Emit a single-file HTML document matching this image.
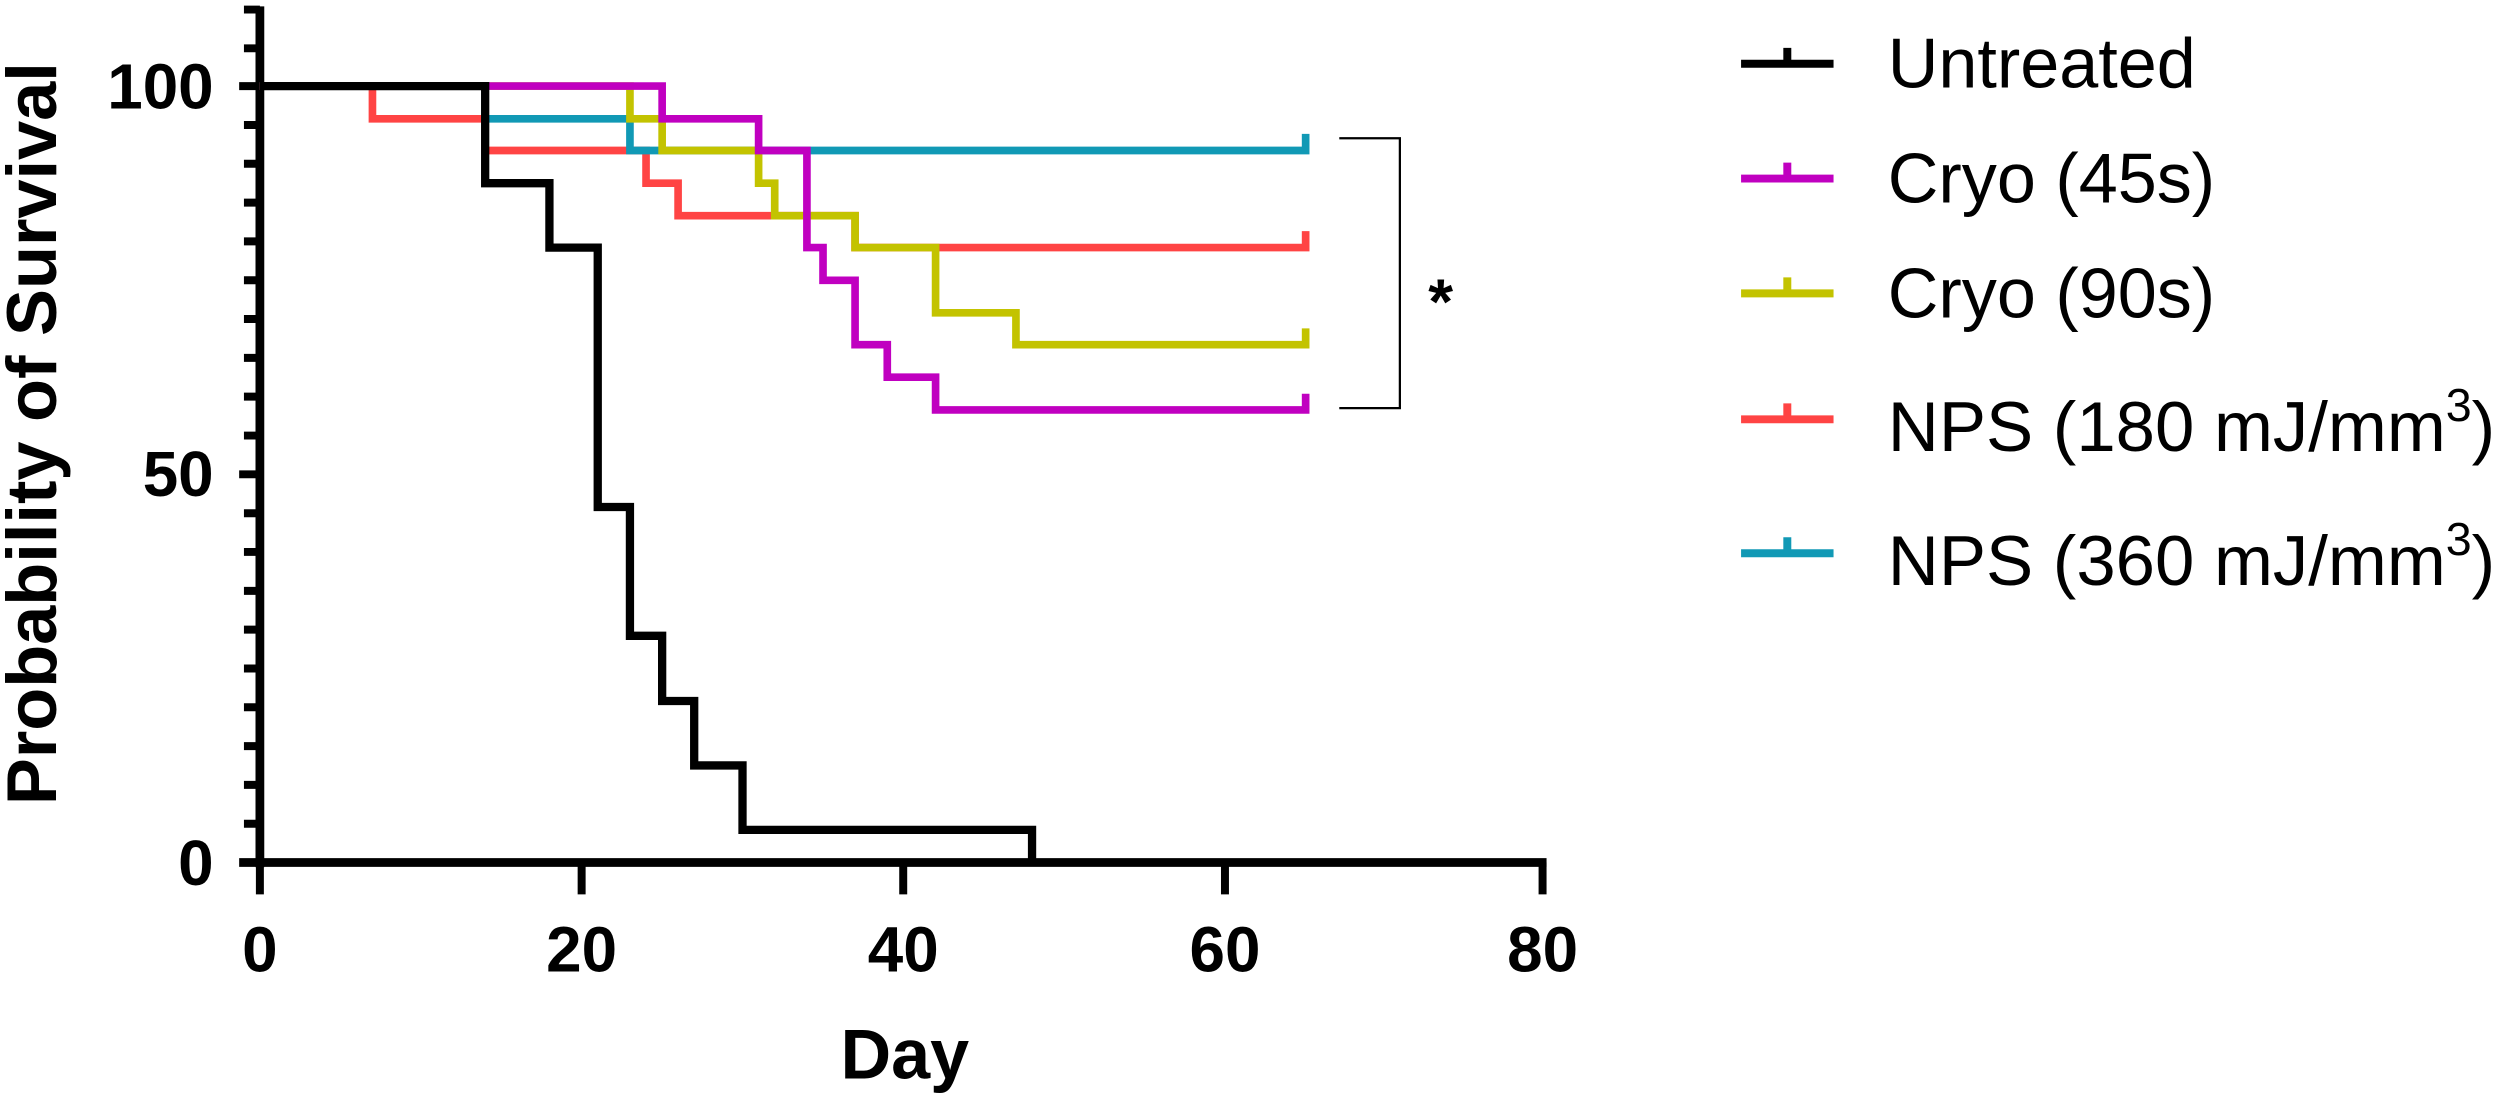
<!DOCTYPE html>
<html><head><meta charset="utf-8"><style>
html,body{margin:0;padding:0;background:#fff;}
svg{display:block;}
</style></head><body>
<svg width="2500" height="1098" viewBox="0 0 1568 688.7" preserveAspectRatio="none" xmlns="http://www.w3.org/2000/svg" font-family="Liberation Sans, Arial, sans-serif">
<rect width="1568" height="689" fill="#fff"/>
<!-- axes -->
<g stroke="#000" fill="none">
<line x1="163" y1="4" x2="163" y2="544" stroke-width="5.5"/>
<line x1="150" y1="541" x2="970" y2="541" stroke-width="5.5"/>
<g stroke-width="5">
<line x1="150" y1="54" x2="163" y2="54"/>
<line x1="150" y1="297.5" x2="163" y2="297.5"/>
<line x1="153" y1="6" x2="163" y2="6"/>
<line x1="153" y1="30.3" x2="163" y2="30.3"/>
<line x1="153" y1="78.4" x2="163" y2="78.4"/>
<line x1="153" y1="102.7" x2="163" y2="102.7"/>
<line x1="153" y1="127.1" x2="163" y2="127.1"/>
<line x1="153" y1="151.4" x2="163" y2="151.4"/>
<line x1="153" y1="175.8" x2="163" y2="175.8"/>
<line x1="153" y1="200.1" x2="163" y2="200.1"/>
<line x1="153" y1="224.5" x2="163" y2="224.5"/>
<line x1="153" y1="248.8" x2="163" y2="248.8"/>
<line x1="153" y1="273.2" x2="163" y2="273.2"/>
<line x1="153" y1="321.9" x2="163" y2="321.9"/>
<line x1="153" y1="346.2" x2="163" y2="346.2"/>
<line x1="153" y1="370.6" x2="163" y2="370.6"/>
<line x1="153" y1="394.9" x2="163" y2="394.9"/>
<line x1="153" y1="419.3" x2="163" y2="419.3"/>
<line x1="153" y1="443.6" x2="163" y2="443.6"/>
<line x1="153" y1="468" x2="163" y2="468"/>
<line x1="153" y1="492.3" x2="163" y2="492.3"/>
<line x1="153" y1="516.7" x2="163" y2="516.7"/>
<line x1="163" y1="541" x2="163" y2="561"/>
<line x1="364.8" y1="541" x2="364.8" y2="561"/>
<line x1="566.5" y1="541" x2="566.5" y2="561"/>
<line x1="768.3" y1="541" x2="768.3" y2="561"/>
<line x1="967.5" y1="541" x2="967.5" y2="561"/>
</g>
</g>
<g font-weight="bold" font-size="40" fill="#000">
<text x="134" y="68" text-anchor="end">100</text>
<text x="134" y="311" text-anchor="end">50</text>
<text x="134" y="555" text-anchor="end">0</text>
<text x="163" y="609.5" text-anchor="middle">0</text>
<text x="364.8" y="609.5" text-anchor="middle">20</text>
<text x="566.5" y="609.5" text-anchor="middle">40</text>
<text x="768.3" y="609.5" text-anchor="middle">60</text>
<text x="967.5" y="609.5" text-anchor="middle">80</text>
<text x="567.5" y="676.5" text-anchor="middle" font-size="44">Day</text>
<text transform="translate(35,272) rotate(-90)" text-anchor="middle" font-size="44" textLength="466" lengthAdjust="spacingAndGlyphs">Probability of Survival</text>
</g>
<!-- series -->
<g fill="none" stroke-width="4.8" stroke-linejoin="miter" stroke-linecap="butt">
<path stroke="#FF4444" d="M163,54 H233.6 V74.5 H304.3 V94.4 H405.2 V114.9 H425.3 V135.3 H536.3 V155.3 H818.9 V145"/>
<path stroke="#1199B5" d="M163,54 H304.3 V74.5 H395.1 V94.4 H818.9 V84"/>
<path stroke="#C3C300" d="M163,54 H395.1 V74.5 H415.3 V94.4 H475.8 V114.9 H485.9 V135.3 H536.3 V155.3 H586.8 V196.2 H637.2 V216.2 H818.9 V206"/>
<path stroke="#C000C0" d="M163,54 H415.3 V74.5 H475.8 V94.4 H506.1 V155.3 H516.2 V175.8 H536.3 V216.2 H556.5 V236.6 H586.8 V257.1 H818.9 V247"/>
<path stroke="#000" stroke-width="5.2" d="M163,54 H304.3 V114.9 H344.6 V155.3 H374.9 V318 H395.1 V398.8 H415.3 V439.7 H435.4 V480.1 H465.7 V520.5 H647.3 V541"/>
</g>
<!-- bracket -->
<path d="M840,86.7 H878 V256 H840" fill="none" stroke="#000" stroke-width="1.4"/>
<text x="903.6" y="203" font-size="40" font-weight="bold" text-anchor="middle">*</text>
<!-- legend -->
<g stroke-width="5" fill="none">
<path stroke="#000" d="M1092,40 H1150 M1121,40 V30"/>
<path stroke="#C000C0" d="M1092,112 H1150 M1121,112 V102"/>
<path stroke="#C3C300" d="M1092,184 H1150 M1121,184 V174"/>
<path stroke="#FF4444" d="M1092,263 H1150 M1121,263 V253"/>
<path stroke="#1199B5" d="M1092,347 H1150 M1121,347 V337"/>
</g>
<g font-size="44" fill="#000">
<text x="1184" y="55">Untreated</text>
<text x="1184" y="127">Cryo (45s)</text>
<text x="1184" y="199">Cryo (90s)</text>
<text x="1184" y="283" textLength="381" lengthAdjust="spacingAndGlyphs">NPS (180 mJ/mm<tspan font-size="29" dy="-19">3</tspan><tspan dy="19">)</tspan></text>
<text x="1184" y="367" textLength="381" lengthAdjust="spacingAndGlyphs">NPS (360 mJ/mm<tspan font-size="29" dy="-19">3</tspan><tspan dy="19">)</tspan></text>
</g>
</svg>
</body></html>
